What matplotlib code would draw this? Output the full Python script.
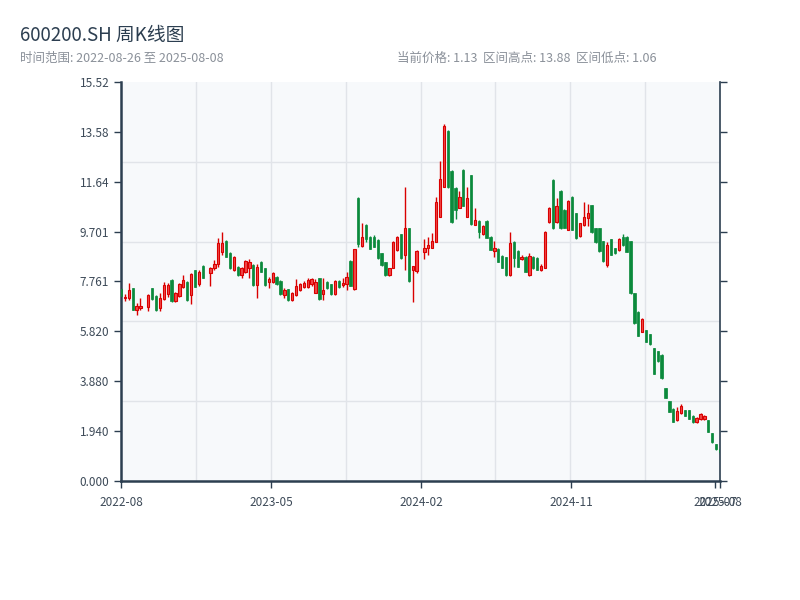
import numpy as np
import pandas as pd
import matplotlib
matplotlib.use("Agg")
import matplotlib.pyplot as plt
import matplotlib.dates as mdates

plt.rcParams['font.family'] = ['Noto Sans CJK SC', 'DejaVu Sans']

# weekly K-line data, 600200.SH
opens = [7.45, 7.10, 7.10, 7.49, 6.65, 6.71, 6.78, 7.49, 7.20, 6.71,
         7.07, 7.29, 7.81, 7.00, 7.19, 7.55, 7.75, 7.23, 8.20, 7.65,
         8.37, 8.10, 8.27, 8.43, 8.92, 9.34, 8.88, 8.20, 8.33, 8.01,
         8.14, 8.27, 8.40, 7.62, 8.53, 8.27, 7.75, 7.75, 7.94, 7.78,
         7.23, 7.46, 7.04, 7.23, 7.43, 7.56, 7.56, 7.65, 7.33, 7.88,
         7.26, 7.75, 7.65, 7.26, 7.78, 7.62, 7.65, 8.55, 7.46, 11.00,
         9.15, 9.96, 9.50, 9.50, 9.37, 8.85, 8.50, 8.01, 8.30, 8.98,
         9.59, 8.79, 9.83, 8.20, 8.16, 8.90, 9.08, 9.08, 9.31, 10.28,
         11.45, 13.61, 12.06, 11.40, 10.63, 12.10, 10.28, 11.90, 9.96, 10.12,
         9.60, 10.12, 9.51, 8.95, 9.03, 8.77, 8.71, 8.01, 9.31, 8.95,
         8.64, 8.73, 8.01, 8.73, 8.69, 8.21, 8.30, 10.06, 11.71, 10.06,
         11.28, 10.55, 9.77, 11.06, 10.41, 9.54, 9.96, 10.24, 10.73, 9.83,
         9.83, 9.33, 8.40, 9.41, 9.05, 8.98, 9.50, 9.50, 9.33, 7.30,
         6.58, 5.80, 5.87, 5.70, 5.16, 5.05, 4.92, 3.60, 3.11, 2.82,
         2.37, 2.63, 2.76, 2.76, 2.54, 2.28, 2.41, 2.41, 2.37, 1.85,
         1.42, 1.24]
highs = [7.50, 7.29, 7.72, 7.52, 6.94, 7.10, 7.26, 7.52, 7.22, 7.30,
         7.75, 7.69, 7.85, 7.36, 7.69, 8.01, 7.78, 8.10, 8.22, 8.20,
         8.40, 8.33, 8.60, 9.44, 9.67, 9.36, 8.90, 8.75, 8.36, 8.33,
         8.60, 8.63, 8.43, 8.43, 8.56, 8.30, 7.92, 8.14, 7.97, 7.80,
         7.49, 7.48, 7.36, 7.85, 7.72, 7.78, 7.88, 7.91, 7.85, 7.91,
         7.88, 7.77, 7.67, 7.81, 7.81, 7.88, 8.14, 8.60, 9.04, 11.06,
         10.02, 9.98, 9.52, 9.55, 9.40, 8.88, 8.52, 8.30, 9.35, 9.53,
         9.62, 11.45, 9.85, 8.37, 8.98, 9.42, 9.51, 9.64, 11.05, 12.46,
         13.88, 13.65, 12.08, 11.45, 11.28, 12.12, 11.45, 11.92, 10.61, 10.14,
         9.96, 10.14, 9.53, 9.34, 9.05, 8.79, 8.73, 9.70, 9.33, 8.97,
         8.80, 8.75, 8.86, 8.75, 8.71, 8.45, 9.72, 10.65, 11.73, 11.00,
         11.30, 10.57, 10.92, 11.08, 10.43, 10.04, 10.84, 10.76, 10.75, 9.85,
         9.85, 9.35, 9.31, 9.43, 9.07, 9.44, 9.60, 9.52, 9.35, 7.32,
         6.60, 6.35, 5.89, 5.72, 5.18, 5.07, 4.94, 3.62, 3.13, 2.84,
         2.89, 2.98, 2.78, 2.78, 2.56, 2.48, 2.63, 2.56, 2.39, 1.87,
         1.44, 1.26]
lows = [7.15, 7.00, 7.04, 6.64, 6.45, 6.65, 6.61, 7.05, 6.62, 6.62,
        7.05, 7.16, 6.98, 6.98, 7.15, 7.49, 7.00, 6.88, 7.53, 7.60,
        7.89, 7.59, 8.20, 8.34, 8.79, 8.70, 8.25, 8.18, 7.99, 7.91,
        8.10, 7.91, 7.60, 7.13, 8.12, 7.60, 7.49, 7.70, 7.63, 7.24,
        7.13, 7.02, 7.00, 7.20, 7.39, 7.50, 7.49, 7.59, 7.30, 7.04,
        7.04, 7.47, 7.24, 7.24, 7.50, 7.56, 7.43, 7.57, 7.43, 9.12,
        9.11, 9.31, 9.02, 9.09, 8.64, 8.38, 7.99, 7.98, 8.28, 8.94,
        8.64, 8.20, 7.76, 6.95, 8.10, 8.64, 8.79, 9.05, 9.28, 10.28,
        11.42, 11.40, 10.05, 10.18, 10.60, 10.68, 10.25, 9.96, 9.94, 9.47,
        9.57, 9.45, 8.97, 8.73, 8.51, 8.28, 7.99, 7.99, 8.34, 8.32,
        8.60, 8.12, 7.99, 8.25, 8.19, 8.15, 8.28, 10.02, 9.81, 10.02,
        9.81, 9.84, 9.75, 9.75, 9.42, 9.50, 9.93, 9.93, 9.65, 9.26,
        8.92, 8.53, 8.33, 8.79, 8.83, 8.96, 9.16, 8.90, 7.28, 6.11,
        5.63, 5.78, 5.39, 5.29, 4.16, 4.64, 3.97, 3.22, 2.67, 2.28,
        2.33, 2.61, 2.52, 2.41, 2.26, 2.26, 2.39, 2.39, 1.89, 1.48,
        1.22, 1.06]
closes = [7.20, 7.16, 7.43, 6.65, 6.80, 6.81, 7.23, 7.07, 6.65, 7.10,
          7.62, 7.62, 6.99, 7.30, 7.65, 7.81, 7.03, 8.07, 7.55, 8.14,
          7.91, 8.27, 8.43, 9.25, 9.25, 8.72, 8.27, 8.72, 8.01, 8.30,
          8.56, 8.53, 7.62, 8.33, 8.14, 7.62, 7.85, 8.10, 7.65, 7.26,
          7.43, 7.04, 7.30, 7.58, 7.65, 7.72, 7.81, 7.85, 7.75, 7.07,
          7.43, 7.49, 7.26, 7.78, 7.56, 7.72, 7.94, 7.59, 9.02, 9.20,
          9.50, 9.41, 9.04, 9.11, 8.66, 8.40, 8.01, 8.27, 9.31, 9.50,
          8.66, 9.83, 7.78, 8.37, 8.94, 9.08, 9.18, 9.34, 10.85, 11.73,
          13.81, 11.42, 10.06, 10.55, 11.06, 10.70, 11.00, 9.98, 10.16, 9.70,
          9.92, 9.47, 8.99, 9.05, 8.53, 8.30, 8.01, 9.25, 8.66, 8.34,
          8.73, 8.14, 8.77, 8.27, 8.21, 8.38, 9.70, 10.61, 9.83, 10.71,
          9.83, 9.86, 10.90, 9.77, 9.44, 10.02, 10.28, 10.41, 9.67, 9.28,
          8.94, 8.55, 9.18, 8.81, 8.85, 9.41, 9.18, 8.92, 7.30, 6.13,
          5.65, 6.30, 5.41, 5.31, 4.18, 4.66, 3.99, 3.24, 2.69, 2.30,
          2.72, 2.90, 2.54, 2.43, 2.28, 2.46, 2.61, 2.54, 1.91, 1.50,
          1.24, 1.13]

start, end = pd.Timestamp('2022-08-26'), pd.Timestamp('2025-08-08')
closed_weeks = ['2022-10-07', '2023-01-27', '2024-02-16']
dates = pd.date_range(start, end, freq='W-FRI')
dates = dates[~dates.isin(pd.to_datetime(closed_weeks))]

y_ticks = [0.0, 1.94, 3.88, 5.82, 7.761, 9.701, 11.64, 13.58, 15.52]
y_labels = ['0.000', '1.940', '3.880', '5.820', '7.761', '9.701', '11.64', '13.58', '15.52']

o = np.array(opens); h = np.array(highs); l = np.array(lows); c = np.array(closes)
x = mdates.date2num(dates)
up = c >= o

RED_EDGE, RED_FILL = '#d90000', '#f04848'
GREEN = '#0b8a3c'
DARK = '#2c3e50'

fig = plt.figure(figsize=(8, 6), dpi=100)
ax = fig.add_axes([121 / 800, 119 / 600, 599 / 800, 399 / 600])
ax.set_facecolor('#f7f9fb')

x0, x1 = mdates.date2num(start), mdates.date2num(end)

# grid (5 rows, 8 columns)
for k in range(1, 5):
    ax.axhline(15.52 * k / 5, color='#e1e4e9', lw=1, zorder=0)
for k in range(1, 8):
    ax.axvline(x0 + (x1 - x0) * k / 8, color='#e1e4e9', lw=1, zorder=0)

w = 4.2
ax.vlines(x[up], l[up], h[up], color=RED_EDGE, lw=1.0, zorder=2)
ax.vlines(x[~up], l[~up], h[~up], color=GREEN, lw=1.0, zorder=2)
ax.bar(x[up], c[up] - o[up], bottom=o[up], width=w, color=RED_FILL,
       edgecolor=RED_EDGE, linewidth=0.8, zorder=3)
ax.bar(x[~up], o[~up] - c[~up], bottom=c[~up], width=w, color=GREEN,
       edgecolor=GREEN, linewidth=0.5, zorder=3)

ax.set_xlim(x0, x1)
ax.set_ylim(0, 15.52)
ax.set_yticks(y_ticks)
ax.set_yticklabels(y_labels)

x_tick_dates = [start, start + pd.Timedelta(days=270), start + pd.Timedelta(days=540),
                start + pd.Timedelta(days=810), pd.Timestamp('2025-07-30'), end]
x_tick_labels = ['2022-08', '2023-05', '2024-02', '2024-11', '2025-07', '2025-08']
ax.set_xticks(mdates.date2num(x_tick_dates))
ax.set_xticklabels(x_tick_labels)

ax.tick_params(axis='both', colors=DARK, labelcolor='#3d4a58', labelsize=8.5,
               length=5, width=1, direction='out')
ax.tick_params(axis='y', right=True, labelright=False)
ax.tick_params(axis='x', pad=6)

ax.spines['top'].set_visible(False)
ax.spines['left'].set_color(DARK)
ax.spines['left'].set_linewidth(1.8)
ax.spines['bottom'].set_color(DARK)
ax.spines['bottom'].set_linewidth(1.8)
ax.spines['right'].set_color(DARK)
ax.spines['right'].set_linewidth(1.2)

fig.text(20 / 800, 1 - 35 / 600, '600200.SH 周K线图', fontsize=13.5,
         color=DARK, va='center', ha='left')
fig.text(20 / 800, 1 - 58 / 600, '时间范围: 2022-08-26 至 2025-08-08',
         fontsize=9, color='#8a9099', va='center', ha='left')
fig.text(397 / 800, 1 - 58 / 600,
         '当前价格: 1.13  区间高点: 13.88  区间低点: 1.06',
         fontsize=9, color='#8a9099', va='center', ha='left')

fig.savefig('out.png', dpi=100, facecolor='white')
